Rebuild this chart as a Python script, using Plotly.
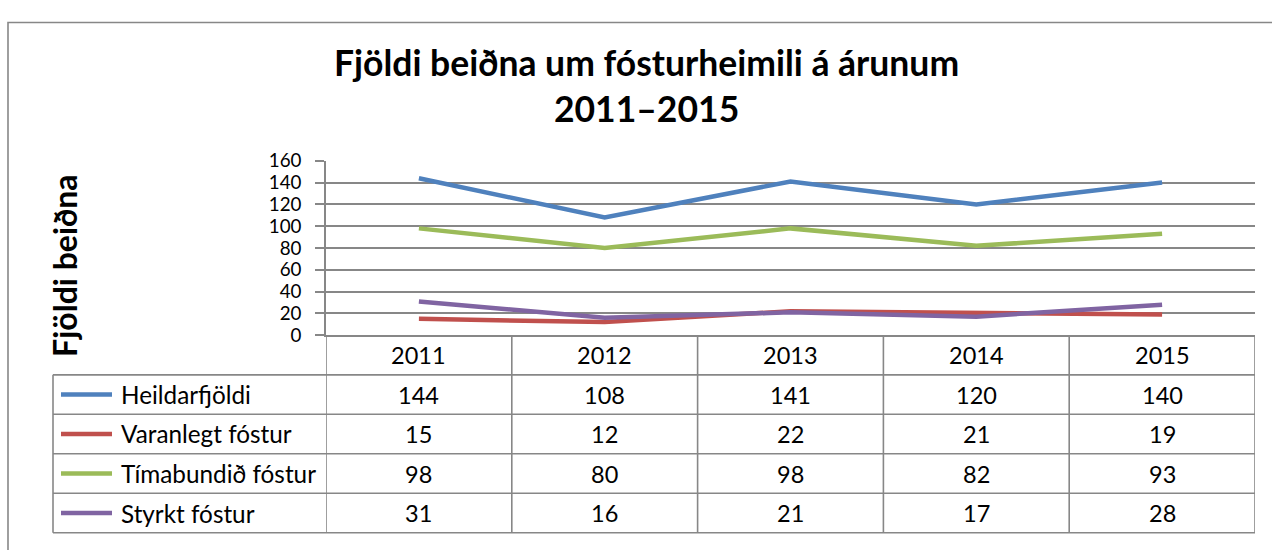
import plotly.graph_objects as go

years = ["2011", "2012", "2013", "2014", "2015"]
series_names = ["Heildarfjöldi", "Varanlegt fóstur", "Tímabundið fóstur", "Styrkt fóstur"]
heildarfjoldi = [144, 108, 141, 120, 140]
varanlegt = [15, 12, 22, 21, 19]
timabundid = [98, 80, 98, 82, 93]
styrkt = [31, 16, 21, 17, 28]
colors = ["#4F81BD", "#C0504D", "#9BBB59", "#8064A2"]
title_text = "Fjöldi beiðna um fósturheimili á árunum<br>2011–2015"
ytitle = "Fjöldi beiðna"

series_values = [heildarfjoldi, varanlegt, timabundid, styrkt]

W, H = 1272, 550
def px(x):
    return x / W
def py(y):
    return 1 - y / H

FONT = "Lato"
GRID = "#878787"

fig = go.Figure()
xs = list(range(len(years)))
for name, vals, col in zip(series_names, series_values, colors):
    fig.add_trace(go.Scatter(x=xs, y=vals, mode="lines", name=name,
                             line=dict(color=col, width=4.5), showlegend=False))

shapes = []
annotations = []

row_tops = [337.3, 378.7, 419.8, 461, 502.3, 543.5]
tbl_left = 53
for i, y in enumerate(row_tops):
    if i == 0:
        continue
    shapes.append(dict(type="line", xref="paper", yref="paper", x0=px(tbl_left), x1=px(1255),
                       y0=py(y), y1=py(y), line=dict(color=GRID, width=1.6)))
for k in range(len(years) + 1):
    shapes.append(dict(type="line", xref="x", yref="paper", x0=k - 0.5, x1=k - 0.5,
                       y0=py(row_tops[0]), y1=py(row_tops[-1]), line=dict(color=GRID, width=1.6)))
shapes.append(dict(type="line", xref="paper", yref="paper", x0=px(tbl_left), x1=px(tbl_left),
                   y0=py(row_tops[1]), y1=py(row_tops[-1]), line=dict(color=GRID, width=1.6)))

for k, yr in enumerate(years):
    annotations.append(dict(x=k, y=py((row_tops[0] + row_tops[1]) / 2), xref="x", yref="paper",
                            text=yr, showarrow=False, font=dict(family=FONT, size=23.5, color="black"),
                            xanchor="center", yanchor="middle"))
for r, (name, vals, col) in enumerate(zip(series_names, series_values, colors)):
    yc = (row_tops[r + 1] + row_tops[r + 2]) / 2
    shapes.append(dict(type="line", xref="paper", yref="paper", x0=px(61), x1=px(112),
                       y0=py(yc), y1=py(yc), line=dict(color=col, width=4.5)))
    annotations.append(dict(x=px(119), y=py(yc), xref="paper", yref="paper", text=name,
                            showarrow=False, font=dict(family=FONT, size=24.3, color="black"),
                            xanchor="left", yanchor="middle"))
    for k, v in enumerate(vals):
        annotations.append(dict(x=k, y=py(yc), xref="x", yref="paper", text=str(v),
                                showarrow=False, font=dict(family=FONT, size=23.5, color="black"),
                                xanchor="center", yanchor="middle"))

annotations.append(dict(x=px(646), y=py(77), xref="paper", yref="paper", text=title_text,
                        showarrow=False, font=dict(family=FONT, size=35.5, color="black", weight="bold"),
                        xanchor="center", yanchor="middle", align="center"))
annotations.append(dict(x=px(65), y=py(265), xref="paper", yref="paper", text="<b>" + ytitle + "</b>",
                        showarrow=False, textangle=-90, font=dict(family=FONT, size=32, color="black"),
                        xanchor="center", yanchor="middle"))

shapes.append(dict(type="rect", xref="paper", yref="paper", x0=px(8), x1=px(1290), y0=py(11), y1=py(600),
                   line=dict(color=GRID, width=1.6), layer="below"))

fig.update_layout(
    width=W, height=H, autosize=False,
    margin=dict(l=0, r=0, t=0, b=0),
    paper_bgcolor="white", plot_bgcolor="white",
    shapes=shapes, annotations=annotations,
    xaxis=dict(domain=[px(326), px(1255)], range=[-0.5, len(years) - 0.5], showticklabels=False,
               showgrid=False, zeroline=False, showline=True, linecolor=GRID, linewidth=1.6, ticks=""),
    yaxis=dict(domain=[py(337.3), py(155.3)], range=[0, 160], dtick=20, showgrid=True, gridcolor=GRID,
               gridwidth=1.6, zeroline=False, showline=True, linecolor=GRID, linewidth=1.6,
               ticks="outside", ticklen=9, tickcolor=GRID, tickwidth=1.6,
               tickfont=dict(family=FONT, size=18.8, color="black"), ticklabelstandoff=10),
)

fig.write_html("out.html", config={"displayModeBar": False},
               post_script="document.body.style.margin='0';")
